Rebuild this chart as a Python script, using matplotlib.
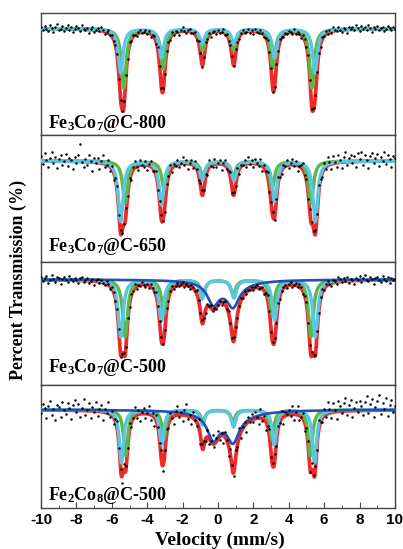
import matplotlib
matplotlib.use("Agg")
import matplotlib.pyplot as plt
import numpy as np
from matplotlib.ticker import MultipleLocator

plt.rcParams['mathtext.fontset'] = 'custom'
plt.rcParams['mathtext.rm'] = 'Liberation Serif:bold'
plt.rcParams['mathtext.default'] = 'rm'
plt.rcParams['axes.unicode_minus'] = False
plt.rcParams['font.family'] = 'Liberation Sans'
plt.rcParams['font.weight'] = 'bold'

# sample names (top to bottom)
labels = ["Fe$_3$Co$_7$@C-800", "Fe$_3$Co$_7$@C-650",
          "Fe$_3$Co$_7$@C-500", "Fe$_2$Co$_8$@C-500"]

# sextet line positions (mm/s), green and cyan sub-spectra
green_pos = [[-5.33, -3.10, -0.87, 0.87, 3.10, 5.31],
             [-5.25, -3.05, -0.86, 0.86, 3.05, 5.25],
             [-5.25, -3.05, -0.86, 0.86, 3.05, 5.25],
             [-5.22, -3.05, -0.85, 0.85, 3.05, 5.22]]
cyan_pos = [[-5.50, -3.20, -0.90, 0.90, 3.20, 5.48],
            [-5.50, -3.20, -0.90, 0.90, 3.20, 5.50],
            [-5.50, -3.20, -0.90, 0.90, 3.20, 5.50],
            [-5.46, -3.18, -0.88, 0.88, 3.18, 5.46]]
# line depths (% absorption)
green_depth = [[5.9, 4.0, 2.1, 2.1, 3.9, 5.9],
               [4.2, 2.8, 1.5, 1.5, 2.8, 4.2],
               [5.7, 3.4, 1.5, 1.5, 3.4, 5.7],
               [4.6, 2.9, 1.2, 1.2, 2.9, 4.6]]
cyan_depth = [[4.4, 2.9, 1.5, 1.5, 2.9, 4.4],
              [6.0, 4.3, 1.9, 1.9, 4.0, 6.0],
              [5.7, 4.1, 1.9, 1.8, 4.0, 5.7],
              [5.3, 3.5, 1.5, 1.7, 3.5, 5.3]]
# full widths (mm/s)
sextet_width = [0.32, 0.33, 0.33, 0.29]

# dark blue component (doublet + broad background), only for the 500 samples
blue_pos = [[], [], [-0.27, 0.85, 0.7], [-0.27, 0.85, 0.7]]
blue_depth = [[], [], [2.05, 2.05, 0.6], [2.4, 2.4, 0.75]]
blue_width = [[], [], [0.8, 0.8, 2.6], [0.8, 0.8, 3.0]]

# y-limits relative to 100 % baseline
ylims = [(89.35, 101.55), (89.95, 102.55), (89.5, 101.8), (90.2, 102.5)]

# measured points: velocity channels and deviation from fit (0.1 %)
velocity = np.linspace(-10, 10, 201)
resid = [
    [2, -1, 3, 0, -2, 4, 1, -3, 2, 5, -1, 0, 3, -2, 1, 4, -1, 2, -3, 0,
     3, 1, -2, 4, 0, -1, 2, -3, 1, 3, -2, 0, 2, -1, 4, 1, -2, 0, 3, -1,
     1, -2, 0, 2, -3, 1, -1, 2, 0, -4, 3, -1, 2, 0, -2, 1, 3, -1, 0, 2,
     -1, 2, -3, 0, 1, -2, 3, 0, -1, 2, -4, 1, 0, -2, 3, -1, 2, 0, -3, 1,
     4, 0, -2, 1, 3, -1, 0, 2, -3, 1, 0, -2, 1, 3, -1, 2, -4, 0, 1, -2,
     2, -1, 0, 3, -2, 1, -3, 0, 2, -1, 4, 0, -2, 1, 3, -1, 0, 2, -2, 1,
     -3, 2, 0, -1, 3, 1, -2, 0, 2, -1, 1, -3, 0, 2, -1, 3, 0, -2, 1, -1,
     2, 0, -2, 3, -1, 1, 0, -3, 2, 1, -1, 3, 0, -2, 1, 2, -1, 0, -3, 2,
     0, 3, -1, 2, -2, 4, 1, -1, 3, 0, -2, 2, 1, -3, 3, 0, 2, -1, 4, 1,
     -2, 3, 0, 2, -1, 4, 1, -3, 2, 0, 3, -1, 1, 2, -2, 0, 3, 1, -1, 2,
     0],
    [5, -3, 8, 1, -6, 3, 9, -2, 4, -7, 2, 6, -4, 0, 7, -5, 3, 1, -8, 4,
     -2, 6, 17, 0, -5, 3, -3, 7, 1, -9, 4, -1, 5, -6, 2, 8, -3, 0, 6, -4,
     3, -7, 1, 5, -2, 4, -5, 0, 6, -3, 2, -6, 3, 7, -1, -4, 5, 0, -2, 4,
     -5, 2, 6, -3, 0, 4, -6, 1, 5, -2, -7, 3, 0, 6, -4, 2, -1, 5, -3, 1,
     7, -2, 3, -5, 1, 4, -3, 6, 0, -6, 2, 5, -1, 3, -4, 7, 0, -2, 5, -3,
     1, 4, -6, 2, 6, -2, 0, 5, -4, 3, -1, 6, -5, 2, 0, 4, -3, 7, -1, 3,
     -4, 5, 1, -2, 6, -5, 3, 0, 4, -6, 2, 5, -3, 1, 6, -2, -4, 3, 0, 5,
     -3, 2, 6, -1, 4, -5, 0, 3, 7, -2, 1, -6, 5, 2, -3, 4, -1, 6, 0, -4,
     6, -2, 9, 3, -5, 7, 1, -4, 8, 2, -6, 5, 10, -3, 4, 7, -1, 6, -5, 8,
     2, 9, -4, 6, 1, -7, 5, 8, -2, 3, 7, -5, 4, 0, 9, -3, 6, 2, -6, 5,
     3],
    [3, -1, 2, 4, -3, 0, 5, 1, -2, 3, 2, -4, 1, 3, 0, -2, 4, 1, -1, 2,
     0, -3, 2, 4, -1, 1, 3, -2, 0, 2, -4, 1, 3, -1, 2, 0, -2, 3, 1, -3,
     2, 0, -3, 1, 4, -2, 0, 3, -1, 2, -3, 1, 0, 4, -2, 1, -1, 3, 0, -2,
     1, -3, 2, 0, -1, 3, -2, 1, 4, -1, 0, 2, -3, 1, 3, -2, 0, 2, -1, 1,
     3, -2, 1, 0, -3, 2, 1, -1, 4, 0, -2, 3, 1, -3, 2, 0, 3, -1, 1, -2,
     0, 2, -3, 1, 3, -1, 2, 0, -2, 4, 1, -3, 0, 2, -1, 3, -2, 1, 0, 2,
     -2, 1, 3, -1, 0, 2, -3, 1, 4, 0, -2, 1, 3, -1, 2, -3, 0, 1, 2, -2,
     1, 3, -2, 0, 2, -1, 3, 1, -3, 0, 2, -2, 1, 4, -1, 0, 2, -3, 1, 3,
     -1, 2, 4, 0, -3, 3, 1, -2, 5, 2, -1, 3, 0, 4, -2, 2, 1, -3, 3, 0,
     4, -2, 2, 5, 0, -1, 3, 1, -4, 2, 3, 0, -2, 4, 1, -1, 3, -3, 2, 0,
     1],
    [-3, 6, 2, -8, 4, 9, -5, 1, -10, 5, 3, -7, 8, 0, -4, 7, 2, -9, 5, 10,
     -2, 6, -6, 3, 12, -4, 1, 8, -7, 4, -1, 9, -5, 2, 7, -8, 3, 0, 11, -3,
     5, -6, 2, 8, -4, 1, -9, 6, 3, -2, 7, -5, 0, 9, -3, 4, -7, 2, 6, -4,
     1, 8, -5, 3, -8, 6, 0, -3, 10, -6, 2, 5, -4, 7, -1, -8, 4, 9, -2, 3,
     -6, 5, 11, -3, 2, -7, 6, 0, -4, 8, -9, 3, 5, -2, 7, -5, 1, 9, -3, 4,
     8, -4, 2, -7, 5, 0, -10, 6, 3, -5, 7, -2, 9, -6, 1, 4, -8, 5, -1, 6,
     -3, 7, 1, -6, 9, -2, 4, -8, 0, 6, -4, 3, 8, -5, 2, -1, 7, -7, 4, 1,
     5, -2, 8, -6, 3, 9, -4, 0, 6, -8, 2, 5, -3, 7, -1, 4, -6, 9, 0, -4,
     7, -3, 12, 4, -5, 9, 2, -7, 10, 5, -2, 8, 13, -4, 6, 11, -6, 3, 9, -1,
     10, 4, -5, 8, 14, -3, 6, 11, -7, 3, 9, 15, -4, 7, 1, 12, -6, 5, 10, -2,
     4],
]


def absorption(v, pos, depth, width):
    a = np.zeros_like(v)
    for p, d, w in zip(pos, depth, width):
        a += d / (1 + ((v - p) / (w / 2)) ** 2)
    return a


fig, axes = plt.subplots(4, 1, figsize=(4.03, 5.49), dpi=100, sharex=True,
                         gridspec_kw={'height_ratios': [122, 126, 123, 123]})
fig.subplots_adjust(left=0.102, right=0.980, top=0.976, bottom=0.075, hspace=0)

v = np.linspace(-10, 10, 2001)
for i, ax in enumerate(axes):
    w = sextet_width[i]
    g = absorption(v, green_pos[i], green_depth[i], [w] * 6)
    c = absorption(v, cyan_pos[i], cyan_depth[i], [w] * 6)
    b = absorption(v, blue_pos[i], blue_depth[i], blue_width[i])
    total = g + c + b

    ax.plot(v, 100 - total, color='#ee2b2b', lw=2.7, zorder=2)
    ax.plot(v, 100 - g, color='#5cb848', lw=2.5, zorder=3)
    ax.plot(v, 100 - c, color='#5cc6e2', lw=2.5, zorder=4)
    if blue_pos[i]:
        ax.plot(v, 100 - b, color='#2450b4', lw=1.9, zorder=5)

    gp = absorption(velocity, green_pos[i], green_depth[i], [w] * 6)
    cp = absorption(velocity, cyan_pos[i], cyan_depth[i], [w] * 6)
    bp = absorption(velocity, blue_pos[i], blue_depth[i], blue_width[i])
    pts = 100 - (gp + cp + bp) + np.array(resid[i]) / 10.0
    ax.plot(velocity, pts, 'o', color='black', ms=1.8, mew=0, zorder=6)

    ax.set_ylim(*ylims[i])
    ax.set_yticks([])
    ax.text(0.02, [0.06, 0.08, 0.10, 0.065][i], labels[i], transform=ax.transAxes,
            fontsize=13, fontweight='bold', family='Liberation Serif', va='baseline')
    for s in ax.spines.values():
        s.set_color('#444444')
        s.set_linewidth(1.0)
    ax.tick_params(axis='x', which='both', bottom=False, top=False, labelbottom=False)

ax = axes[-1]
ax.set_xlim(-10, 10)
ax.xaxis.set_major_locator(MultipleLocator(2))
ax.xaxis.set_minor_locator(MultipleLocator(1))
ax.tick_params(axis='x', which='both', direction='in', bottom=True, labelbottom=True,
               labelsize=11, pad=4, color='#444444')
ax.tick_params(axis='x', which='major', length=4)
ax.tick_params(axis='x', which='minor', length=2.5)

fig.text(0.545, 0.016, 'Velocity (mm/s)', ha='center', va='center',
         fontsize=14, fontweight='bold', family='Liberation Serif')
fig.text(0.045, 0.49, 'Percent Transmission (%)', ha='center', va='center', rotation=90,
         fontsize=13, fontweight='bold', family='Liberation Serif')

fig.savefig('out.png', dpi=100)
